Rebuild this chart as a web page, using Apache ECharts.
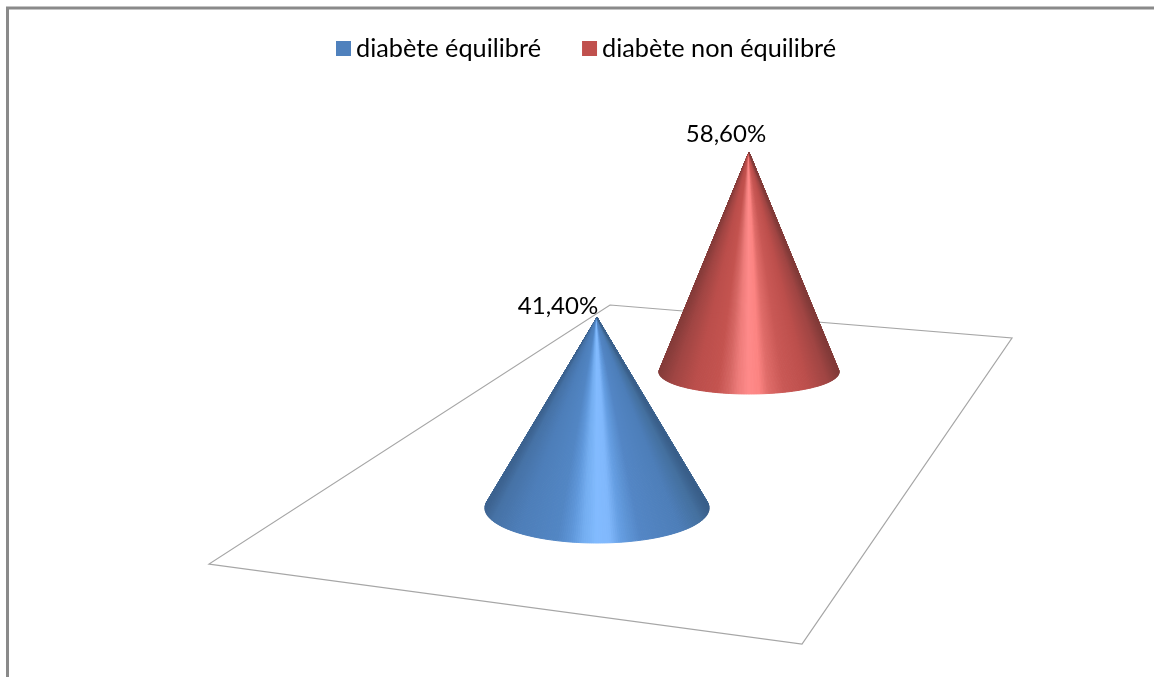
<!DOCTYPE html>
<html>
<head>
<meta charset="utf-8">
<style>
  html, body { margin: 0; padding: 0; background: #fff; }
  #chart { width: 1154px; height: 677px; }
</style>
<script src="https://cdn.jsdelivr.net/npm/echarts@6/dist/echarts.min.js"></script>
</head>
<body>
<div id="chart"></div>
<script>
// Share of patients by diabetes control
const categories = ['diabète équilibré', 'diabète non équilibré'];
const values = [41.4, 58.6];

// Legend / base colours
const baseColors = ['#4f81bd', '#c0504d'];

// Shading ramps across the visible cone surface: [position from -1 to 1, colour]
const ramps = [
  [[-1, '#3d6390'], [-0.93, '#4672a6'], [-0.7, '#4d7eb9'], [-0.35, '#5286c4'], [-0.22, '#5f97da'], [-0.12, '#73adf0'],
   [0, '#82bbff'], [0.12, '#80b8fc'], [0.22, '#659ee2'], [0.4, '#5386c5'], [0.75, '#4d7eb9'], [0.93, '#44709f'], [1, '#3a5f8a']],
  [[-1, '#853c3a'], [-0.85, '#a04543'], [-0.6, '#bb4e4b'], [-0.35, '#c4534f'], [-0.22, '#d66764'], [-0.12, '#ee7c7a'],
   [0, '#ff8a8a'], [0.12, '#fc8482'], [0.22, '#e06c69'], [0.4, '#c95855'], [0.65, '#bd4f4c'], [0.88, '#a04543'], [1, '#823b39']]
];

// Oblique view: each series stands further back on the floor
const depth = [
  { rise: 0, scale: 1, rx: 112, ry: 35, labelDx: -39, labelDy: -11 },
  { rise: 136, scale: 0.815, rx: 90, ry: 22, labelDx: -23, labelDy: -18 }
];
const floorCorners = [[610, 305], [1012, 338], [802, 644], [209, 564]];

function shade(ramp, u) {
  for (let i = 1; i < ramp.length; i++) {
    if (u <= ramp[i][0]) {
      const t = (u - ramp[i - 1][0]) / (ramp[i][0] - ramp[i - 1][0]);
      return echarts.color.lerp(t, [ramp[i - 1][1], ramp[i][1]]);
    }
  }
  return ramp[ramp.length - 1][1];
}

function percentText(v) {
  return v.toFixed(2).replace('.', ',') + '%';
}

function renderCone(seriesIndex, params, api) {
  const foot = api.coord([seriesIndex, 0]);
  const tip = api.coord([seriesIndex, api.value(1)]);
  const view = depth[seriesIndex];
  const cx = foot[0];
  const cy = foot[1] - view.rise;
  const ax = tip[0];
  const ay = cy - (foot[1] - tip[1]) * view.scale;

  // Outline tangent points on the base ellipse; walk its front edge left to right
  const start = Math.asin(view.ry / (cy - ay));
  const sweep = Math.PI + 2 * start;
  const edge = (phi) => [cx - view.rx * Math.cos(phi), cy + view.ry * Math.sin(phi)];
  const facets = 180;
  const children = [];
  for (let i = 0; i < facets; i++) {
    const p0 = -start + sweep * i / facets;
    const p1 = -start + sweep * (i + 1) / facets;
    const u = -(Math.cos(p0) + Math.cos(p1)) / 2;
    const fill = shade(ramps[seriesIndex], u);
    children.push({
      type: 'polygon',
      shape: { points: [[ax, ay], edge(p0), edge(p1)] },
      style: { fill: fill, stroke: fill, lineWidth: 1 }
    });
  }
  children.push({
    type: 'text',
    style: {
      text: percentText(api.value(1)),
      x: ax + view.labelDx,
      y: ay + view.labelDy,
      align: 'center',
      verticalAlign: 'middle',
      fill: '#000',
      font: '24px Lato'
    }
  });
  return { type: 'group', children: children };
}

const chart = echarts.init(document.getElementById('chart'), null, { renderer: 'canvas' });
chart.setOption({
  animation: false,
  backgroundColor: '#fff',
  graphic: [
    { type: 'polyline', silent: true, z: -1,
      shape: { points: [[7.5, 677], [7.5, 8], [1154, 8]] },
      style: { fill: null, stroke: '#8a8a8a', lineWidth: 3 } },
    { type: 'polygon', silent: true, z: -1,
      shape: { points: floorCorners },
      style: { fill: '#fff', stroke: '#a6a6a6', lineWidth: 1.2 } }
  ],
  legend: {
    left: 336,
    top: 36,
    padding: 0,
    itemWidth: 15,
    itemHeight: 15,
    itemGap: 41,
    icon: 'rect',
    data: categories,
    textStyle: { fontFamily: 'Lato', fontSize: 25.3, color: '#000' }
  },
  grid: { left: 521, width: 304, top: 48, height: 460 },
  xAxis: { type: 'category', data: categories, show: false },
  yAxis: { type: 'value', min: 0, max: 100, show: false },
  series: categories.map((name, i) => ({
    type: 'custom',
    name: name,
    coordinateSystem: 'cartesian2d',
    itemStyle: { color: baseColors[i] },
    encode: { x: 0, y: 1 },
    data: [[i, values[i]]],
    z: i === 0 ? 3 : 2,
    renderItem: (params, api) => renderCone(i, params, api)
  }))
});
</script>
</body>
</html>
